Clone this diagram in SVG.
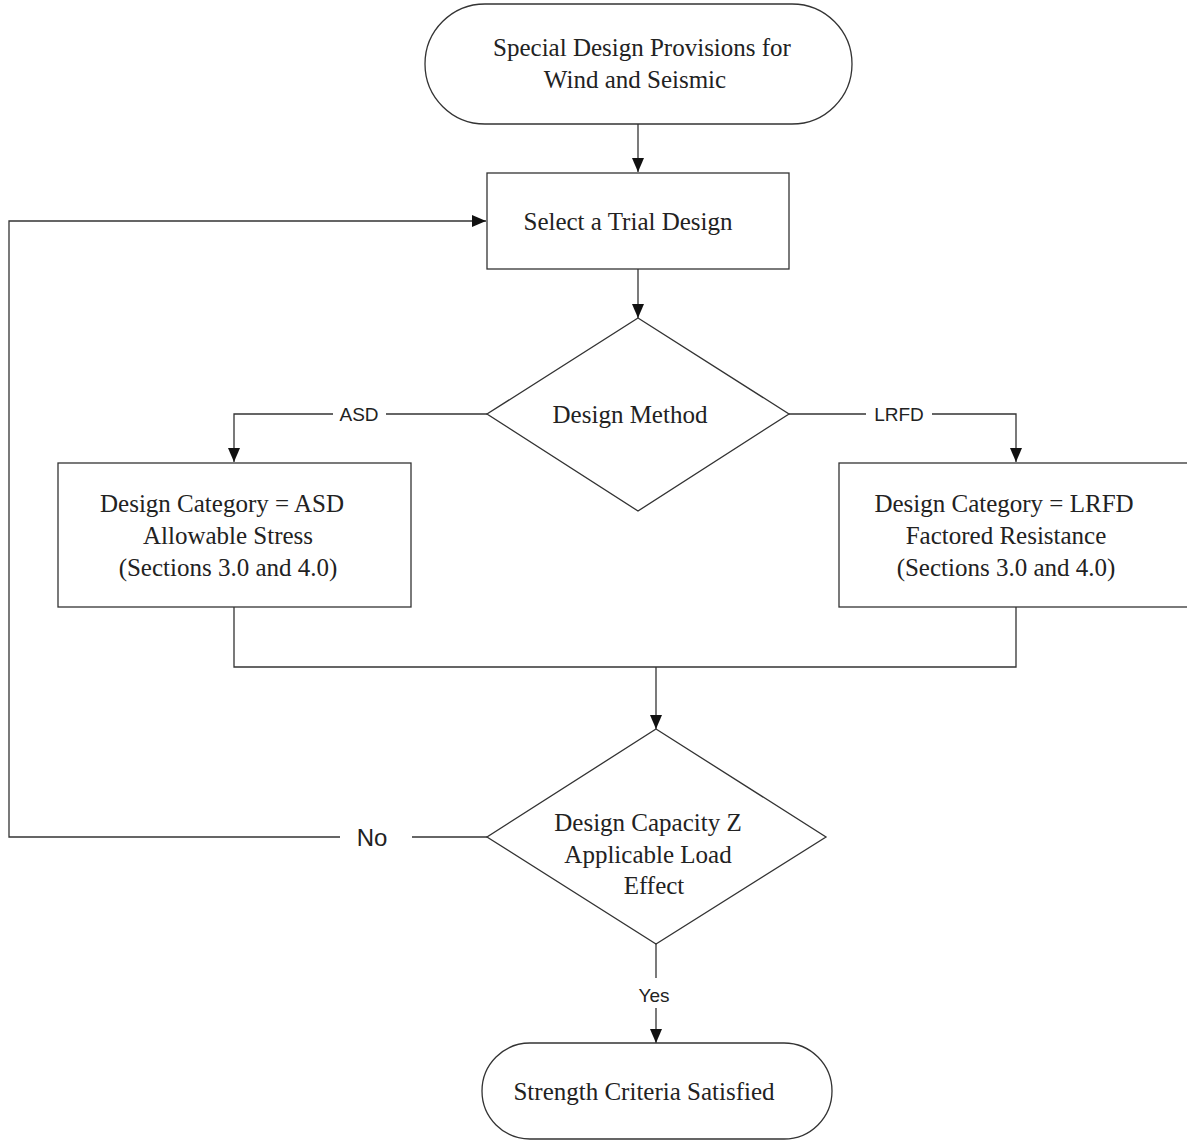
<svg xmlns="http://www.w3.org/2000/svg" width="1187" height="1140" viewBox="0 0 1187 1140">
<style>
.shape{fill:#fff;stroke:#333;stroke-width:1.3}
.conn{fill:none;stroke:#333;stroke-width:1.3}
.t{font-family:"Liberation Serif","Times New Roman",serif;font-size:25px;fill:#222;text-anchor:middle}
.l{font-family:"Liberation Sans",Arial,sans-serif;font-size:19px;fill:#222;text-anchor:middle}
</style>
<defs>
<marker id="arr" markerWidth="14" markerHeight="12" refX="14" refY="6" orient="auto" markerUnits="userSpaceOnUse">
<path d="M0,0 L14,6 L0,12 Z" fill="#111"/>
</marker>
</defs>
<rect width="1187" height="1140" fill="#fff"/>
<g id="connectors">
<line class="conn" x1="638" y1="124" x2="638" y2="172" marker-end="url(#arr)"/>
<line class="conn" x1="638" y1="269" x2="638" y2="318" marker-end="url(#arr)"/>
<polyline class="conn" points="487,414 386,414"/>
<polyline class="conn" points="333,414 234,414 234,462" marker-end="url(#arr)"/>
<polyline class="conn" points="789,414 866,414"/>
<polyline class="conn" points="932,414 1016,414 1016,462" marker-end="url(#arr)"/>
<polyline class="conn" points="234,607 234,667 1016,667 1016,607"/>
<line class="conn" x1="656" y1="667" x2="656" y2="729" marker-end="url(#arr)"/>
<line class="conn" x1="487" y1="837" x2="412" y2="837"/>
<polyline class="conn" points="340,837 9,837 9,221 486,221" marker-end="url(#arr)"/>
<line class="conn" x1="656" y1="944" x2="656" y2="978"/>
<line class="conn" x1="656" y1="1008" x2="656" y2="1043" marker-end="url(#arr)"/>
<text class="l" x="359" y="421">ASD</text>
<text class="l" x="899" y="421">LRFD</text>
<text class="l" x="372" y="846" style="font-size:24px">No</text>
<text class="l" x="654" y="1002">Yes</text>
</g>
<g id="start">
<rect class="shape" x="425" y="4" width="427" height="120" rx="60" ry="60"/>
<text class="t" x="642" y="56">Special Design Provisions for</text>
<text class="t" x="635" y="88">Wind and Seismic</text>
</g>
<g id="trial">
<rect class="shape" x="487" y="173" width="302" height="96"/>
<text class="t" x="628" y="230">Select a Trial Design</text>
</g>
<g id="method">
<polygon class="shape" points="638,318 789,414 638,511 487,414"/>
<text class="t" x="630" y="423">Design Method</text>
</g>
<g id="asd">
<rect class="shape" x="58" y="463" width="353" height="144"/>
<text class="t" x="222" y="512">Design Category = ASD</text>
<text class="t" x="228" y="544">Allowable Stress</text>
<text class="t" x="228" y="576">(Sections 3.0 and 4.0)</text>
</g>
<g id="lrfd">
<rect class="shape" x="839" y="463" width="360" height="144"/>
<text class="t" x="1004" y="512">Design Category = LRFD</text>
<text class="t" x="1006" y="544">Factored Resistance</text>
<text class="t" x="1006" y="576">(Sections 3.0 and 4.0)</text>
</g>
<g id="capacity">
<polygon class="shape" points="656,729 826,837 656,944 487,837"/>
<text class="t" x="648" y="831">Design Capacity Z</text>
<text class="t" x="648" y="863">Applicable Load</text>
<text class="t" x="654" y="894">Effect</text>
</g>
<g id="end">
<rect class="shape" x="482" y="1043" width="350" height="96" rx="48" ry="48"/>
<text class="t" x="644" y="1100">Strength Criteria Satisfied</text>
</g>
</svg>
